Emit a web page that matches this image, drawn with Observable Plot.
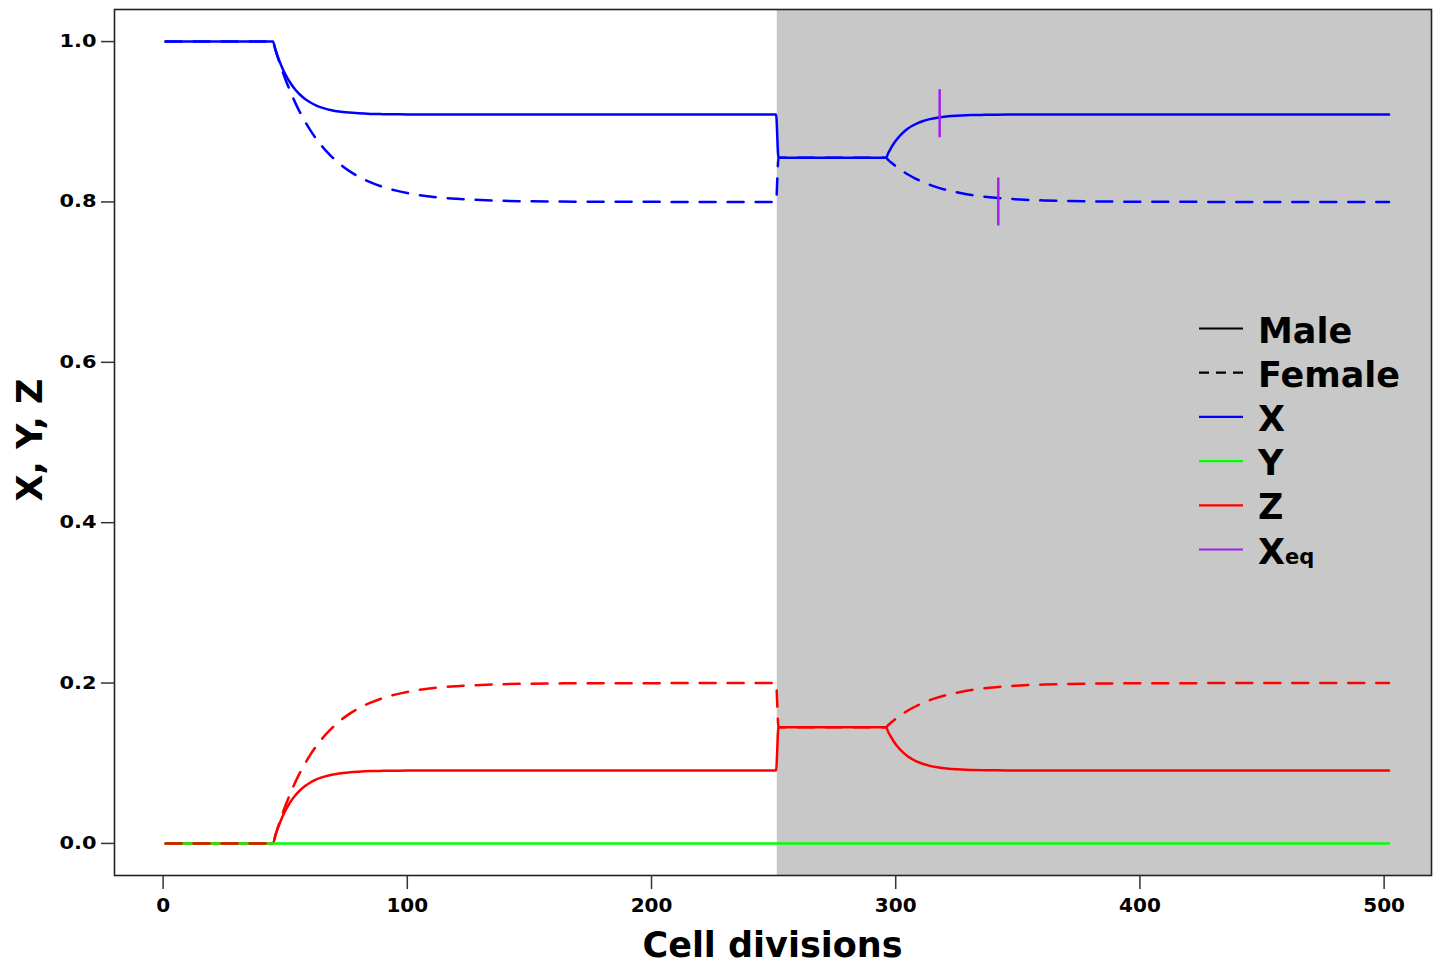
<!DOCTYPE html>
<html>
<head>
<meta charset="utf-8">
<script src="https://cdn.jsdelivr.net/npm/d3@7"></script>
<script src="https://cdn.jsdelivr.net/npm/@observablehq/plot@0.6"></script>
<style>
  html, body { margin: 0; padding: 0; background: white; overflow: hidden; }
  #chart svg { display: block; }
</style>
</head>
<body>
<div id="chart"></div>
<script>
// ---- data ----
const gen = [1, 45, 46, 47, 48, 49, 50, 52, 54, 56, 58, 60, 63, 66, 69, 72, 76, 80, 85, 90, 95, 100, 110, 120, 135, 150, 170, 200, 251,
             252,
             296, 297, 298, 299, 300, 301, 303, 305, 307, 309, 311, 314, 317, 320, 323, 327, 331, 336, 341, 346, 351, 361, 371, 386, 401, 421, 451, 502];
const maleX = [1.0000, 1.0000, 0.9899, 0.9809, 0.9729, 0.9658, 0.9595, 0.9489, 0.9406, 0.9340, 0.9287, 0.9246, 0.9199, 0.9167, 0.9144, 0.9128, 0.9114, 0.9105, 0.9098, 0.9095, 0.9093, 0.9091, 0.9090, 0.9090, 0.9090, 0.9090, 0.9090, 0.9090, 0.9090,
               0.8550,
               0.8550, 0.8613, 0.8669, 0.8719, 0.8762, 0.8801, 0.8865, 0.8915, 0.8953, 0.8984, 0.9007, 0.9033, 0.9051, 0.9063, 0.9072, 0.9079, 0.9083, 0.9086, 0.9088, 0.9089, 0.9090, 0.9090, 0.9090, 0.9090, 0.9090, 0.9090, 0.9090, 0.9090];
const femaleX = [1.0000, 1.0000, 0.9897, 0.9800, 0.9708, 0.9620, 0.9537, 0.9384, 0.9245, 0.9121, 0.9009, 0.8908, 0.8775, 0.8662, 0.8566, 0.8483, 0.8391, 0.8317, 0.8244, 0.8187, 0.8144, 0.8111, 0.8065, 0.8039, 0.8018, 0.8008, 0.8003, 0.8001, 0.8000,
                 0.8550,
                 0.8550, 0.8522, 0.8495, 0.8470, 0.8446, 0.8423, 0.8380, 0.8342, 0.8308, 0.8277, 0.8250, 0.8213, 0.8182, 0.8156, 0.8133, 0.8108, 0.8087, 0.8067, 0.8052, 0.8040, 0.8030, 0.8018, 0.8011, 0.8005, 0.8002, 0.8001, 0.8000, 0.8000];
const maleZ = [0.0000, 0.0000, 0.0101, 0.0191, 0.0271, 0.0342, 0.0405, 0.0511, 0.0594, 0.0660, 0.0713, 0.0754, 0.0801, 0.0833, 0.0856, 0.0872, 0.0886, 0.0895, 0.0902, 0.0905, 0.0907, 0.0909, 0.0910, 0.0910, 0.0910, 0.0910, 0.0910, 0.0910, 0.0910,
               0.1450,
               0.1450, 0.1387, 0.1331, 0.1281, 0.1238, 0.1199, 0.1135, 0.1085, 0.1047, 0.1016, 0.0993, 0.0967, 0.0949, 0.0937, 0.0928, 0.0921, 0.0917, 0.0914, 0.0912, 0.0911, 0.0910, 0.0910, 0.0910, 0.0910, 0.0910, 0.0910, 0.0910, 0.0910];
const femaleZ = [0.0000, 0.0000, 0.0103, 0.0200, 0.0292, 0.0380, 0.0463, 0.0616, 0.0755, 0.0879, 0.0991, 0.1092, 0.1225, 0.1338, 0.1434, 0.1517, 0.1609, 0.1683, 0.1756, 0.1813, 0.1856, 0.1889, 0.1935, 0.1961, 0.1982, 0.1992, 0.1997, 0.1999, 0.2000,
                 0.1450,
                 0.1450, 0.1478, 0.1505, 0.1530, 0.1554, 0.1577, 0.1620, 0.1658, 0.1692, 0.1723, 0.1750, 0.1787, 0.1818, 0.1844, 0.1867, 0.1892, 0.1913, 0.1933, 0.1948, 0.1960, 0.1970, 0.1982, 0.1989, 0.1995, 0.1998, 0.1999, 0.2000, 0.2000];
const yGen = [1, 502];
const yVal = [0, 0];
const xeqGen = [318, 342];
const xeqLow = [0.88, 0.77];
const xeqHigh = [0.94, 0.83];
const shadeStart = 251.5;
const xTicks = [0, 100, 200, 300, 400, 500];
const yTicks = [0, 0.2, 0.4, 0.6, 0.8, 1.0];
const legendLabels = ["Male", "Female", "X", "Y", "Z", "Xeq"];
const xTitle = "Cell divisions";
const yTitle = "X, Y, Z";

// ---- layout / styles ----
const W = 1437, H = 964;
const xDomain = [-19.9, 519.4];
const yDomain = [-0.04, 1.04];
const colBlue = "#0000ff", colGreen = "#00ff00", colRed = "#ff0000", colPurple = "#a020f0";
const dash = "16,12";
const lw = 2.5;

const series = (vals) => gen.map((g, i) => ({g, v: vals[i]}));
const yRows = yGen.map((g, i) => ({g, v: yVal[i]}));
const xeqRows = xeqGen.map((g, i) => ({g, lo: xeqLow[i], hi: xeqHigh[i]}));
const shade = [{x1: shadeStart, x2: xDomain[1], y1: yDomain[0], y2: yDomain[1]}];

const plot = Plot.plot({
  width: W,
  height: H,
  marginLeft: 114,
  marginRight: 6,
  marginTop: 9,
  marginBottom: 89,
  style: {fontFamily: "DejaVu Sans", fontWeight: "bold", background: "white", color: "#000"},
  x: {domain: xDomain},
  y: {domain: yDomain},
  marks: [
    Plot.rect(shade, {x1: "x1", x2: "x2", y1: "y1", y2: "y2", fill: "#c8c8c8"}),
    Plot.line(series(maleX), {x: "g", y: "v", stroke: colBlue, strokeWidth: lw, curve: "monotone-x"}),
    Plot.line(series(femaleX), {x: "g", y: "v", stroke: colBlue, strokeWidth: lw, strokeDasharray: dash, curve: "monotone-x"}),
    Plot.line(series(maleZ), {x: "g", y: "v", stroke: colRed, strokeWidth: lw, curve: "monotone-x"}),
    Plot.line(yRows, {x: "g", y: "v", stroke: colGreen, strokeWidth: lw}),
    Plot.line(series(femaleZ), {x: "g", y: "v", stroke: colRed, strokeWidth: lw, strokeDasharray: dash, curve: "monotone-x"}),
    Plot.ruleX(xeqRows, {x: "g", y1: "lo", y2: "hi", stroke: colPurple, strokeWidth: lw}),
    Plot.frame({stroke: "#222", strokeWidth: 1.6}),
    Plot.axisX({ticks: xTicks, tickSize: 14, tickPadding: 8, fontSize: 20, fontWeight: "bold", stroke: "#333", strokeWidth: 1.5, label: null}),
    Plot.axisY({ticks: yTicks, tickFormat: d3.format(".1f"), tickSize: 13, tickPadding: 5, fontSize: 17, fontWeight: "bold", stroke: "#333", strokeWidth: 1.5, label: null})
  ]
});

document.getElementById("chart").appendChild(plot);

// ---- titles and legend ----
const svg = d3.select(plot);
svg.selectAll("g[aria-label='x-axis tick label']").style("font-size", "20px").style("font-weight", "bold");
svg.selectAll("g[aria-label='x-axis tick label'] text").style("font-size", "20px");
svg.selectAll("g[aria-label='y-axis tick label']").style("font-size", "17px").style("font-weight", "bold");
svg.selectAll("g[aria-label='y-axis tick label'] text")
  .style("font-size", "17px")
  .attr("textLength", 37)
  .attr("lengthAdjust", "spacingAndGlyphs");

svg.append("text")
  .attr("x", 772.5).attr("y", 957)
  .attr("text-anchor", "middle")
  .style("font-family", "DejaVu Sans").style("font-weight", "bold").style("font-size", "35px")
  .attr("fill", "#000")
  .text(xTitle);

svg.append("text")
  .attr("transform", "translate(42,440) rotate(-90)")
  .attr("text-anchor", "middle")
  .style("font-family", "DejaVu Sans").style("font-weight", "bold").style("font-size", "35px")
  .attr("fill", "#000")
  .text(yTitle);

const legendColors = ["#000", "#000", colBlue, colGreen, colRed, colPurple];
const legendDash = [null, "10,7", null, null, null, null];
const lg = svg.append("g").attr("text-anchor", "start");
legendLabels.forEach((lab, i) => {
  const cy = 328.5 + i * 44.2;
  lg.append("line")
    .attr("x1", 1199).attr("x2", 1243).attr("y1", cy).attr("y2", cy)
    .attr("stroke", legendColors[i]).attr("stroke-width", 2.2)
    .attr("stroke-dasharray", legendDash[i]);
  const t = lg.append("text")
    .attr("x", 1258).attr("y", cy + 14)
    .attr("text-anchor", "start")
    .style("font-family", "DejaVu Sans").style("font-weight", "bold").style("font-size", "35px")
    .attr("fill", "#000");
  if (lab === "Xeq") {
    t.append("tspan").text("X");
    t.append("tspan").style("font-size", "21px").text("eq");
  } else {
    t.text(lab);
  }
});
</script>
</body>
</html>
